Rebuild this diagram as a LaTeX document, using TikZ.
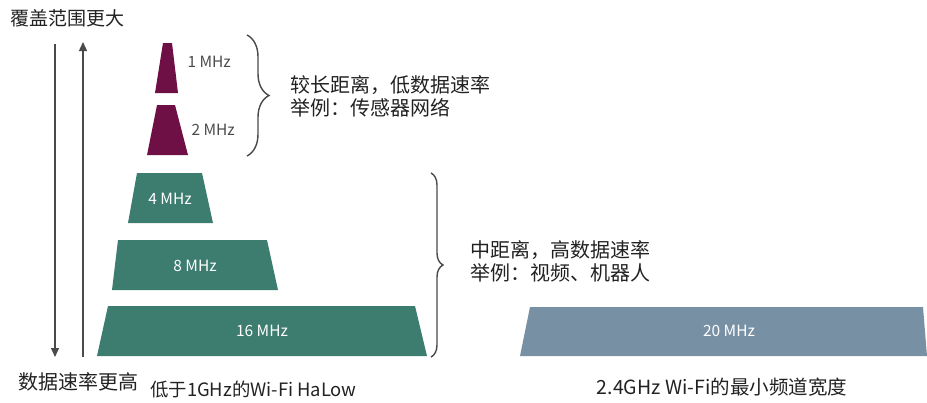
\documentclass[tikz,border=0pt]{standalone}
\usepackage{fontspec}
\setmainfont{Noto Sans CJK SC}
\usetikzlibrary{decorations.pathreplacing,arrows.meta}
\definecolor{maroonc}{HTML}{6E1046}
\definecolor{tealc}{HTML}{3D7D6F}
\definecolor{slatec}{HTML}{7890A4}
\definecolor{axisc}{HTML}{4A4A4A}
\definecolor{txtc}{HTML}{222222}
\tikzset{
  mhz/.style={font=\fontsize{15.5}{18}\selectfont, text=white},
  mhzdark/.style={font=\fontsize{15.5}{18}\selectfont, text=axisc},
  captext/.style={font=\fontsize{19}{22}\selectfont, text=txtc, inner sep=0pt},
  bigtext/.style={font=\fontsize{20}{23}\selectfont, text=txtc, align=left, inner sep=0pt},
  bracestyle/.style={draw=axisc, line width=1.4pt, decorate, decoration={brace, amplitude=22pt}},
  axisarrow/.style={draw=axisc, line width=1.4pt, -{Triangle[length=9pt,width=8pt]}}
}
\begin{document}
\begin{tikzpicture}[x=1pt,y=-1pt]
\useasboundingbox (0,0) rectangle (927,402);
% axis arrows
\coordinate (dTop) at (55,44);
\coordinate (dBot) at (55,357);
\coordinate (uBot) at (83,357);
\coordinate (uTop) at (83,42);
\draw[axisarrow] (dTop) -- (dBot);
\draw[axisarrow] (uBot) -- (uTop);
% maroon
\fill[maroonc] (163,43) -- (172,43) -- (178,93) -- (155,93) -- cycle;
\fill[maroonc] (157,105) -- (175,105) -- (188,155) -- (147,155) -- cycle;
\node[mhzdark, anchor=west] (m1) at (184,62) {1 MHz};
\node[mhzdark, anchor=west] (m2) at (188,130) {2 MHz};
% teal
\fill[tealc] (137,173) -- (202,173) -- (213,223) -- (128,223) -- cycle;
\node[mhz] (m4) at (170,199) {4 MHz};
\fill[tealc] (118,240) -- (267,240) -- (278,290) -- (112,290) -- cycle;
\node[mhz] (m8) at (195,266) {8 MHz};
\fill[tealc] (108,306) -- (415,306) -- (427,356) -- (97,356) -- cycle;
\node[mhz] (m16) at (262,331) {16 MHz};
% slate
\fill[slatec] (530,307) -- (923,307) -- (927,356) -- (520,356) -- cycle;
\node[mhz] (m20) at (729,331) {20 MHz};
% braces
\coordinate (b1t) at (247,35);
\coordinate (b1b) at (247,156);
\draw[bracestyle] (b1t) -- (b1b);
\coordinate (b2t) at (431,173);
\coordinate (b2b) at (431,357);
\draw[bracestyle, decoration={brace, amplitude=12pt}] (b2t) -- (b2b);
% texts
\node[bigtext, anchor=west] (t1) at (290,96) {较长距离，低数据速率\\举例：传感器网络};
\node[bigtext, anchor=west] (t2) at (470,261) {中距离，高数据速率\\举例：视频、机器人};
\node[captext, anchor=west] (toplbl) at (10,18) {覆盖范围更大};
\node[captext, anchor=west, font=\fontsize{20}{23}\selectfont] (botlbl) at (18,382) {数据速率更高};
\node[captext, anchor=west, font=\fontsize{18.4}{22}\selectfont] (halow) at (150,390) {低于1GHz的Wi-Fi HaLow};
\node[captext, font=\fontsize{19.5}{23}\selectfont] (wifi) at (722,387) {2.4GHz Wi-Fi的最小频道宽度};
\end{tikzpicture}
\end{document}
